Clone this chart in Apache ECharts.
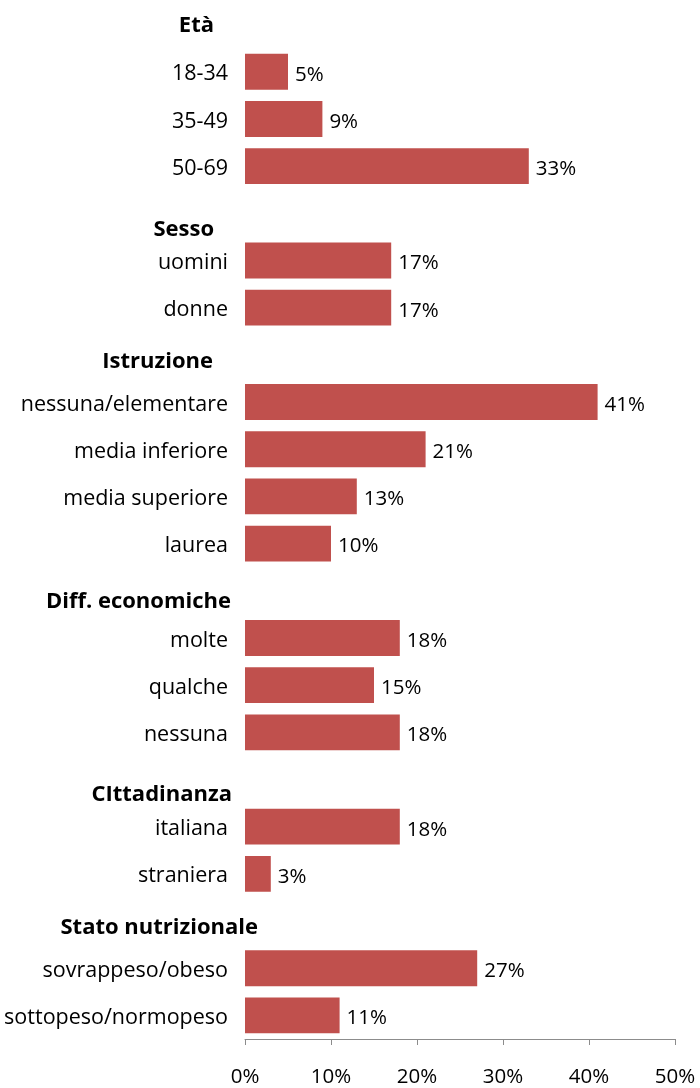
<!DOCTYPE html>
<html>
<head>
<meta charset="utf-8">
<script src="https://cdn.jsdelivr.net/npm/echarts@6/dist/echarts.min.js"></script>
<style>
  html, body { margin: 0; padding: 0; background: #fff; }
  #chart { width: 700px; height: 1088px; }
</style>
</head>
<body>
<div id="chart"></div>
<script>
// Rows of the chart, top to bottom; group headings carry no value.
const categories = [
  'Età', '18-34', '35-49', '50-69',
  'Sesso', 'uomini', 'donne',
  'Istruzione', 'nessuna/elementare', 'media inferiore', 'media superiore', 'laurea',
  'Diff. economiche', 'molte', 'qualche', 'nessuna',
  'CIttadinanza', 'italiana', 'straniera',
  'Stato nutrizionale', 'sovrappeso/obeso', 'sottopeso/normopeso'
];
const values = [
  null, 5, 9, 33,
  null, 17, 17,
  null, 41, 21, 13, 10,
  null, 18, 15, 18,
  null, 18, 3,
  null, 27, 11
];
const groupHeaders = ['Età', 'Sesso', 'Istruzione', 'Diff. economiche', 'CIttadinanza', 'Stato nutrizionale'];
const xTicks = [0, 10, 20, 30, 40, 50];

// Heading placement: [downward shift, right padding] in px
const headerPlacement = {
  'Età': [1, 51],
  'Sesso': [16, 51],
  'Istruzione': [7, 52],
  'Diff. economiche': [11, 34],
  'CIttadinanza': [15, 33],
  'Stato nutrizionale': [7, 7]
};

const FONT = '"Open Sans"';
const rich = {
  n: { fontFamily: FONT, fontSize: 21.5, color: '#000', padding: [5, 37, 0, 0] }
};
groupHeaders.forEach((h, i) => {
  const p = headerPlacement[h];
  rich['h' + i] = {
    fontFamily: FONT, fontSize: 22, fontWeight: 'bold', color: '#000',
    padding: [p[0] * 2, p[1], 0, 0]
  };
});

const chart = echarts.init(document.getElementById('chart'), null, { renderer: 'canvas' });
chart.setOption({
  animation: false,
  backgroundColor: '#ffffff',
  grid: { left: 245, right: 25, top: 1, bottom: 45, containLabel: false },
  xAxis: {
    type: 'value',
    min: xTicks[0],
    max: xTicks[xTicks.length - 1],
    interval: 10,
    axisLine: { show: true, lineStyle: { color: '#8c8c8c', width: 1 } },
    axisTick: { show: true, length: 6, lineStyle: { color: '#8c8c8c' } },
    splitLine: { show: false },
    axisLabel: {
      formatter: '{value}%',
      fontFamily: FONT, fontSize: 20.5, color: '#000',
      margin: 28
    }
  },
  yAxis: {
    type: 'category',
    inverse: true,
    data: categories,
    axisLine: { show: false },
    axisTick: { show: false },
    splitLine: { show: false },
    axisLabel: {
      interval: 0,
      margin: -20,
      formatter: function (v) {
        const gi = groupHeaders.indexOf(v);
        return gi >= 0 ? '{h' + gi + '|' + v + '}' : '{n|' + v + '}';
      },
      rich: rich
    }
  },
  series: [{
    type: 'bar',
    data: values,
    barCategoryGap: '24%',
    itemStyle: { color: '#C0504D' },
    label: {
      show: true,
      position: 'right',
      distance: 7,
      offset: [0, 3],
      formatter: '{c}%',
      fontFamily: FONT, fontSize: 20.5, color: '#000'
    }
  }]
});
</script>
</body>
</html>
